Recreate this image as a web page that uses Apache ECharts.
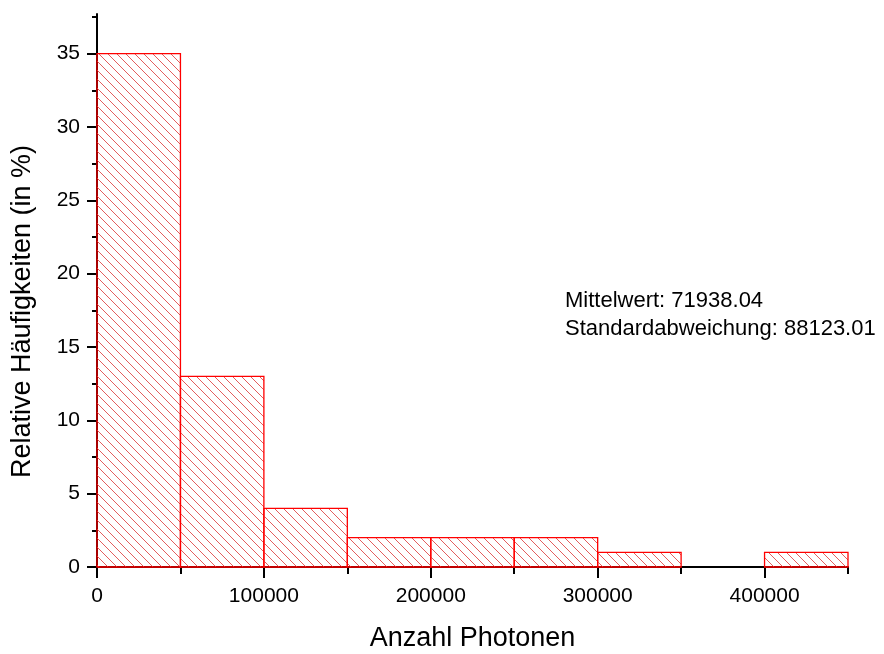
<!DOCTYPE html>
<html><head><meta charset="utf-8">
<script src="https://cdn.jsdelivr.net/npm/echarts@6/dist/echarts.min.js"></script>
<style>html,body{margin:0;padding:0;background:#fff}#c{width:884px;height:654px}</style>
</head><body><div id="c"></div>
<script>
const binStarts = [0, 50000, 100000, 150000, 200000, 250000, 300000, 350000, 400000];
const binWidth = 50000;
const frequencies = [35, 13, 4, 2, 2, 2, 1, 0, 1];
const xMajorTicks = [0, 100000, 200000, 300000, 400000];
const xMinorTicks = [50000, 150000, 250000, 350000, 450000];
const yMajorTicks = [0, 5, 10, 15, 20, 25, 30, 35];
const yMinorTicks = [2.5, 7.5, 12.5, 17.5, 22.5, 27.5, 32.5, 37.5];
const statsText = ['Mittelwert: 71938.04', 'Standardabweichung: 88123.01'];

const FONT = '"Liberation Sans", Arial, sans-serif';
const T = 9;
const pc = document.createElement('canvas');
pc.width = T; pc.height = T;
const g = pc.getContext('2d');
g.strokeStyle = '#e35e5e'; g.lineWidth = 1;
g.beginPath();
g.moveTo(-1, -1); g.lineTo(T + 1, T + 1);
g.moveTo(-1, T - 1); g.lineTo(1, T + 1);
g.moveTo(T - 1, -1); g.lineTo(T + 1, 1);
g.stroke();
const hatch = {image: pc, repeat: 'repeat'};

const data = binStarts.map((s, i) => [s, s + binWidth, frequencies[i]]);

const chart = echarts.init(document.getElementById('c'), null, {renderer: 'canvas'});
const axisCommon = {
  axisLine: {show: true, lineStyle: {color: '#000', width: 2}},
  splitLine: {show: false}
};
chart.setOption({
  animation: false,
  backgroundColor: '#fff',
  grid: {left: 97, right: 36, top: 14, bottom: 87, containLabel: false, outerBoundsMode: 'none'},
  xAxis: [
    Object.assign({}, axisCommon, {
      type: 'value', min: 0, max: 450000, position: 'bottom',
      name: 'Anzahl Photonen', nameLocation: 'middle', nameGap: 58,
      nameTextStyle: {fontFamily: FONT, fontSize: 27, color: '#000'},
      axisTick: {show: true, inside: false, length: 11, lineStyle: {color: '#000', width: 2}, customValues: xMajorTicks},
      axisLabel: {show: true, fontFamily: FONT, fontSize: 21, color: '#000', margin: 19, customValues: xMajorTicks,
                  formatter: function (v) { return String(v); }}
    }),
    Object.assign({}, axisCommon, {
      type: 'value', min: 0, max: 450000, position: 'bottom',
      axisLine: {show: false},
      axisTick: {show: true, length: 7, lineStyle: {color: '#000', width: 2}, customValues: xMinorTicks},
      axisLabel: {show: false}
    })
  ],
  yAxis: [
    Object.assign({}, axisCommon, {
      type: 'value', min: 0, max: 37.7, position: 'left',
      name: 'Relative Häufigkeiten (in %)', nameLocation: 'middle', nameGap: 61, nameRotate: 90,
      nameTextStyle: {fontFamily: FONT, fontSize: 27, color: '#000', padding: [0, 42, 0, 0]},
      axisTick: {show: true, length: 10, lineStyle: {color: '#000', width: 2}, customValues: yMajorTicks},
      axisLabel: {show: true, fontFamily: FONT, fontSize: 21, color: '#000', margin: 17, customValues: yMajorTicks}
    }),
    Object.assign({}, axisCommon, {
      type: 'value', min: 0, max: 37.7, position: 'left',
      axisLine: {show: false},
      axisTick: {show: true, length: 5, lineStyle: {color: '#000', width: 2}, customValues: yMinorTicks},
      axisLabel: {show: false}
    })
  ],
  graphic: [{
    type: 'text', left: 565, top: 287,
    style: {text: statsText.join('\n'), fontFamily: FONT, fontSize: 22, lineHeight: 28, fill: '#000'}
  }],
  series: [{
    type: 'custom',
    xAxisIndex: 0, yAxisIndex: 0,
    encode: {x: [0, 1], y: 2},
    data: data,
    z: 1,
    renderItem: function (params, api) {
      const v = api.value(2);
      if (!v) return null;
      const p0 = api.coord([api.value(0), v]);
      const p1 = api.coord([api.value(1), 0]);
      return {
        type: 'rect',
        shape: {x: p0[0], y: p0[1], width: p1[0] - p0[0], height: p1[1] - p0[1]},
        style: {fill: hatch, stroke: '#ff0000', lineWidth: 1.3}
      };
    }
  }]
});
</script></body></html>
